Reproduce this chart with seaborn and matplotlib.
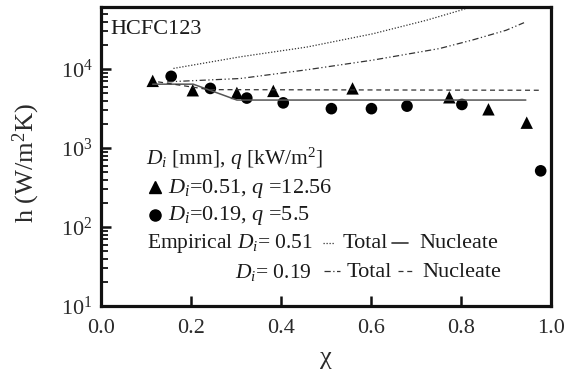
import numpy as np
import pandas as pd
import matplotlib
matplotlib.use('Agg')
import matplotlib.pyplot as plt
from matplotlib.lines import Line2D
import seaborn as sns

# measured data
tri_x = [0.115, 0.204, 0.302, 0.383, 0.559, 0.774, 0.861, 0.946]
tri_y = [7100, 5400, 5000, 5300, 5700, 4400, 3100, 2100]
circ_x = [0.156, 0.243, 0.324, 0.405, 0.512, 0.601, 0.680, 0.802, 0.977]
circ_y = [8100, 5700, 4300, 3740, 3160, 3160, 3400, 3570, 516]

# empirical correlations
tot051_x = [0.161, 0.309, 0.457, 0.604, 0.723, 0.80, 0.85]
tot051_y = [10200, 14300, 19000, 28000, 41500, 55800, 70000]
nuc051_x = [0.115, 0.205, 0.302, 0.944]
nuc051_y = [6450, 6450, 4060, 4060]
tot019_x = [0.147, 0.309, 0.457, 0.604, 0.752, 0.826, 0.90, 0.940]
tot019_y = [6900, 7600, 9800, 13000, 18200, 23400, 31000, 38700]
nuc019_x = [0.127, 0.24, 0.60, 0.977]
nuc019_y = [6900, 5500, 5450, 5400]

ls_tot051 = (0, (1, 1.4))
ls_tot019 = (0, (5, 2, 1, 2, 1, 2))
ls_nuc019 = (0, (4, 3))

sns.set_style('ticks')
plt.rcParams['font.family'] = ['Liberation Serif', 'DejaVu Serif']
plt.rcParams['mathtext.fontset'] = 'custom'
plt.rcParams['mathtext.rm'] = 'Liberation Serif'
plt.rcParams['mathtext.it'] = 'Liberation Serif:italic'
plt.rcParams['text.color'] = '#1a1a1a'

fig = plt.figure(figsize=(5.64, 3.72), dpi=100)
ax = fig.add_axes([0.179, 0.177, 0.798, 0.804])

sns.lineplot(x=tot051_x, y=tot051_y, ax=ax, color='#333333', lw=0.9, linestyle=ls_tot051)
sns.lineplot(x=nuc051_x, y=nuc051_y, ax=ax, color='#555555', lw=1.1, linestyle='-')
sns.lineplot(x=tot019_x, y=tot019_y, ax=ax, color='#333333', lw=0.9, linestyle=ls_tot019)
sns.lineplot(x=nuc019_x, y=nuc019_y, ax=ax, color='#333333', lw=0.9, linestyle=ls_nuc019)
sns.scatterplot(x=tri_x, y=tri_y, ax=ax, marker='^', s=80, color='black', edgecolor='none')
sns.scatterplot(x=circ_x, y=circ_y, ax=ax, marker='o', s=70, color='black', edgecolor='none')

ax.set_yscale('log')
ax.set_xlim(0, 1.0)
ax.set_ylim(10, 6.1e4)
ax.set_xticks([0.0, 0.2, 0.4, 0.6, 0.8, 1.0])
ax.set_xticklabels(['0.0', '0.2', '0.4', '0.6', '0.8', '1.0'])
ax.set_yticks([10, 100, 1000, 10000])
ax.set_yticklabels(['$10^{1}$', '$10^{2}$', '$10^{3}$', '$10^{4}$'])
for s in ax.spines.values():
    s.set_linewidth(2.3)
    s.set_color('#111111')
ax.tick_params(axis='both', which='major', direction='in', length=7.5, width=1.8,
               labelsize=16, colors='#111111', labelcolor='#2a2a2a')
ax.tick_params(axis='y', which='minor', direction='in', length=5, width=1.3, colors='#111111')
ax.tick_params(axis='x', pad=9)
ax.tick_params(axis='y', pad=6)

ax.set_xlabel('χ', fontsize=19, color='#2a2a2a', va='top')
ax.xaxis.set_label_coords(0.5, -0.135)
ax.set_ylabel('h (W/m$^2$K)', fontsize=19, color='#2a2a2a')
ax.yaxis.set_label_coords(-0.132, 0.48)

fs = 16
ax.text(0.021, 0.925, 'HCFC123', transform=ax.transAxes, fontsize=16, va='center')
ax.text(0.099, 0.493, r'$D_i$ [mm], $q$ [kW/m$^2$]', transform=ax.transAxes, fontsize=15.5, va='center')
ax.text(0.150, 0.395, r'$D_i$=0.51, $q$ =12.56', transform=ax.transAxes, fontsize=fs, va='center')
ax.text(0.150, 0.304, r'$D_i$=0.19, $q$ =5.5', transform=ax.transAxes, fontsize=fs, va='center')
ax.text(0.103, 0.208, r'Empirical $D_i$= 0.51', transform=ax.transAxes, fontsize=15.5, va='center')
ax.text(0.298, 0.113, r'$D_i$= 0.19', transform=ax.transAxes, fontsize=15.5, va='center')
ax.text(0.537, 0.208, 'Total', transform=ax.transAxes, fontsize=fs, va='center')
ax.text(0.708, 0.208, 'Nucleate', transform=ax.transAxes, fontsize=fs, va='center')
ax.text(0.546, 0.113, 'Total', transform=ax.transAxes, fontsize=fs, va='center')
ax.text(0.714, 0.113, 'Nucleate', transform=ax.transAxes, fontsize=fs, va='center')

# legend keys
ax.add_line(Line2D([0.121], [0.398], transform=ax.transAxes, marker='^', ms=9, color='black', ls='none'))
ax.add_line(Line2D([0.121], [0.304], transform=ax.transAxes, marker='o', ms=8, color='black', ls='none'))
ax.add_line(Line2D([0.494, 0.518], [0.212, 0.212], transform=ax.transAxes, color='#333333', lw=0.9, ls=ls_tot051))
ax.add_line(Line2D([0.646, 0.682], [0.212, 0.212], transform=ax.transAxes, color='#333333', lw=1.2))
ax.add_line(Line2D([0.495, 0.531], [0.117, 0.117], transform=ax.transAxes, color='#333333', lw=0.9, ls=(0, (5, 2, 1, 2))))
ax.add_line(Line2D([0.659, 0.697], [0.117, 0.117], transform=ax.transAxes, color='#333333', lw=0.9, ls=ls_nuc019))

fig.savefig('out.png', dpi=100)
